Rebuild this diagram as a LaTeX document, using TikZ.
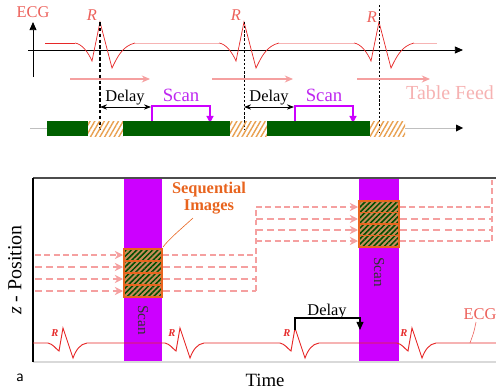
\documentclass[tikz,border=0pt]{standalone}
\usepackage{fontspec}
\setmainfont{Liberation Serif}
\usetikzlibrary{arrows.meta,patterns.meta}

\definecolor{ecgred}{RGB}{230,40,40}
\definecolor{ecglabel}{RGB}{236,96,90}
\definecolor{feedpink}{RGB}{245,160,160}
\definecolor{feedtext}{RGB}{246,178,178}
\definecolor{scanpurple}{RGB}{204,0,255}
\definecolor{scantext}{RGB}{190,40,240}
\definecolor{bargreen}{RGB}{0,96,0}
\definecolor{hatchorange}{RGB}{232,160,80}
\definecolor{sliceorange}{RGB}{232,100,30}
\definecolor{slicebase}{RGB}{200,140,90}

\begin{document}
\begin{tikzpicture}[x=0.03cm,y=-0.03cm,
  ecg/.style={ecgred, line width=.6pt},
  ecgfaint/.style={ecgred!35, line width=.6pt},
  feed/.style={feedpink, line width=1.6pt, -{Stealth[length=7pt,width=6pt]}},
  feeddash/.style={feedpink, line width=1.8pt, dash pattern=on 6pt off 3.5pt},
  feedthin/.style={feedpink, line width=.9pt, dash pattern=on 5pt off 3pt},
  slice/.style={pattern={Lines[angle=45,distance=3.2pt,line width=1.3pt]}, pattern color=bargreen!80!black},
  hatch/.style={pattern={Lines[angle=60,distance=3.5pt,line width=1.2pt]}, pattern color=hatchorange},
  txt/.style={inner sep=0pt, font=\fontsize{14}{14}\selectfont},
  blackarrow/.style={-{Triangle[length=7pt,width=6pt]}}]
\useasboundingbox (0,0) rectangle (496,392);

% top: ECG trace and time axis
\draw[blackarrow, line width=.8pt] (33,77) -- (33,22);
\draw[blackarrow, line width=.8pt] (28,50) -- (463,50);
\node[txt, ecglabel] (ecgtop) at (33,12) {ECG};
\draw[ecg] (45,43) -- (75,43);
\draw[ecgfaint] (135,43) -- (219,43);
\draw[ecgfaint] (279,43) -- (354,43);
\draw[ecgfaint] (414,43) -- (437,43);
\foreach \r in {100,244,379}
  \draw[ecg] (\r-25,43) .. controls (\r-18,44) and (\r-12,52) .. (\r-8,61) -- (\r,22) -- (\r+12,68)
    .. controls (\r+17,58) and (\r+22,46) .. (\r+35,43);
\coordinate (R1) at (100,22);
\coordinate (R2) at (244,22);
\coordinate (R3) at (379,22);
\node[txt, ecglabel, font=\fontsize{14}{14}\selectfont\itshape] (r1) at (92,15) {R};
\node[txt, ecglabel, font=\fontsize{14}{14}\selectfont\itshape] (r2) at (236,15) {R};
\node[txt, ecglabel, font=\fontsize{14}{14}\selectfont\itshape] (r3) at (372,17) {R};
\draw[black, line width=1.6pt, dash pattern=on 3pt off 2pt] (R1) -- (100,130);
\draw[black, line width=.5pt, dash pattern=on 2pt off 1.5pt] (R2) -- (244,130);
\draw[black, line width=.5pt, dash pattern=on 2pt off 1.5pt] (379,5) -- (379,133);

% table feed
\draw[feed] (70,79) -- (150,79);
\draw[feed] (212,79) -- (293,79);
\draw[feed, line width=2.2pt] (357,79) -- (430,79);
\node[txt, feedtext, anchor=west, font=\fontsize{17}{17}\selectfont] (feedlabel) at (406,93) {Table Feed};

% delay and scan
\coordinate (d1a) at (100,107);
\coordinate (d1b) at (151,107);
\coordinate (d2a) at (244,107);
\coordinate (d2b) at (294,107);
\draw[{Stealth[length=6pt]}-{Stealth[length=6pt]}, line width=.8pt] (d1a) -- (d1b);
\draw[{Stealth[length=6pt]}-{Stealth[length=6pt]}, line width=.8pt] (d2a) -- (d2b);
\node[txt] (delay1) at (125,98) {Delay};
\node[txt] (delay2) at (269,98) {Delay};
\draw[scanpurple, line width=1pt, -{Triangle[length=6pt,width=6pt]}] (152,122) -- (152,106) -- (210,106) -- (210,123);
\draw[scanpurple, line width=1pt, -{Triangle[length=6pt,width=6pt]}] (295,122) -- (295,106) -- (353,106) -- (353,123);
\node[txt, scantext, font=\fontsize{16}{16}\selectfont] (scan1) at (181,95) {Scan};
\node[txt, scantext, font=\fontsize{16}{16}\selectfont] (scan2) at (324,95) {Scan};

% acquisition bar
\draw[black!25, line width=.8pt] (30,128) -- (47,128);
\draw[black!25, line width=.8pt] (405,128) -- (458,128);
\fill[black] (456,124.5) -- (463,128) -- (456,131.5) -- cycle;
\fill[bargreen] (47,121) rectangle (88,136);
\fill[hatch] (88,121) rectangle (123,136);
\fill[bargreen] (123,121) rectangle (230,136);
\fill[hatch] (230,121) rectangle (267,136);
\fill[bargreen] (267,121) rectangle (370,136);
\fill[hatch] (370,121) rectangle (405,136);

% bottom: z-position versus time
\fill[scanpurple] (124,178) rectangle (162,362);
\fill[scanpurple] (359,178) rectangle (399,362);
\draw[black!70, line width=1pt] (33,178) -- (496,178);
\draw[black!15, line width=1pt] (33,362) -- (496,362);
\draw[black, line width=1pt] (33,178) -- (33,362);
\node[txt, rotate=90, font=\fontsize{17}{17}\selectfont] (zlabel) at (15,270) {\textit{z} - Position};
\node[txt, font=\fontsize{16}{16}\selectfont] (timelabel) at (265,380) {Time};
\node[txt, font=\fontsize{14}{14}\selectfont\sffamily] (panel) at (20,378) {a};
\node[txt, rotate=-90, black!80, font=\fontsize{13}{13}\selectfont] (scanA) at (143,320) {Scan};
\node[txt, rotate=-90, black!80, font=\fontsize{13}{13}\selectfont] (scanB) at (379,272) {Scan};

% image slices
\foreach \y in {249,261,273,285} {
  \fill[slicebase] (124,\y) rectangle (162,\y+12);
  \fill[slice] (124,\y) rectangle (162,\y+12);
  \draw[sliceorange, line width=1pt] (124,\y) rectangle (162,\y+12);
}
\foreach \y in {201,212.5,224,235.5} {
  \fill[slicebase] (359,\y) rectangle (399,\y+11.5);
  \fill[slice] (359,\y) rectangle (399,\y+11.5);
  \draw[sliceorange, line width=1pt] (359,\y) rectangle (399,\y+11.5);
}

% table positions
\draw[feedthin, -{Stealth[length=7pt,width=7pt]}] (35,255) -- (123,255);
\foreach \y in {267,279,291}
  \draw[feeddash, -{Stealth[length=7pt,width=7pt]}] (35,\y) -- (123,\y);
\draw[feedthin] (163,255) -- (256,255);
\foreach \y in {267,279,291}
  \draw[feeddash] (163,\y) -- (256,\y);
\draw[feedthin] (256,291) -- (256,207);
\draw[feedthin, -{Stealth[length=7pt,width=7pt]}] (256,207) -- (358,207);
\foreach \y in {219,230}
  \draw[feeddash, -{Stealth[length=7pt,width=7pt]}] (256,\y) -- (358,\y);
\draw[feedthin, -{Stealth[length=7pt,width=7pt]}] (256,241) -- (358,241);
\draw[feedthin] (400,207) -- (492,207);
\foreach \y in {219,230}
  \draw[feeddash] (400,\y) -- (492,\y);
\draw[feedthin] (400,241) -- (492,241);
\draw[feedthin] (492,241) -- (492,180);

\node[txt, sliceorange, align=center, font=\fontsize{14}{15}\selectfont\bfseries] (seq) at (209,198) {Sequential\\Images};
\coordinate (seqtail) at (193,218);
\coordinate (seqhead) at (163,247);
\draw[sliceorange, line width=.5pt] (seqtail) .. controls (180,230) and (170,238) .. (seqhead);

% bottom ECG
\draw[ecg, line width=.8pt] (33,343) \foreach \r in {63,180,295,412} {
  -- (\r-15,343) .. controls (\r-10,344) and (\r-7,349) .. (\r-4,351) -- (\r,328) -- (\r+10,358)
  .. controls (\r+13,350) and (\r+17,344) .. (\r+24,343) } -- (496,343);
\foreach \r in {63,180,295,412}
  \node[txt, ecgred, font=\fontsize{9}{9}\selectfont\bfseries\itshape] at (\r-8,333) {R};
\coordinate (lowR3) at (295,330);
\coordinate (scanstart) at (360,330);
\draw[black, line width=1pt, blackarrow] (lowR3) -- (295,318) -- (360,318) -- (scanstart);
\node[txt] (delay3) at (327,312) {Delay};
\node[txt, ecglabel] (ecgbottom) at (480,314) {ECG};
\coordinate (ecgtail) at (476,322);
\coordinate (ecghead) at (470,343);
\draw[ecglabel, line width=.5pt] (ecgtail) .. controls (474,332) .. (ecghead);
\end{tikzpicture}
\end{document}
